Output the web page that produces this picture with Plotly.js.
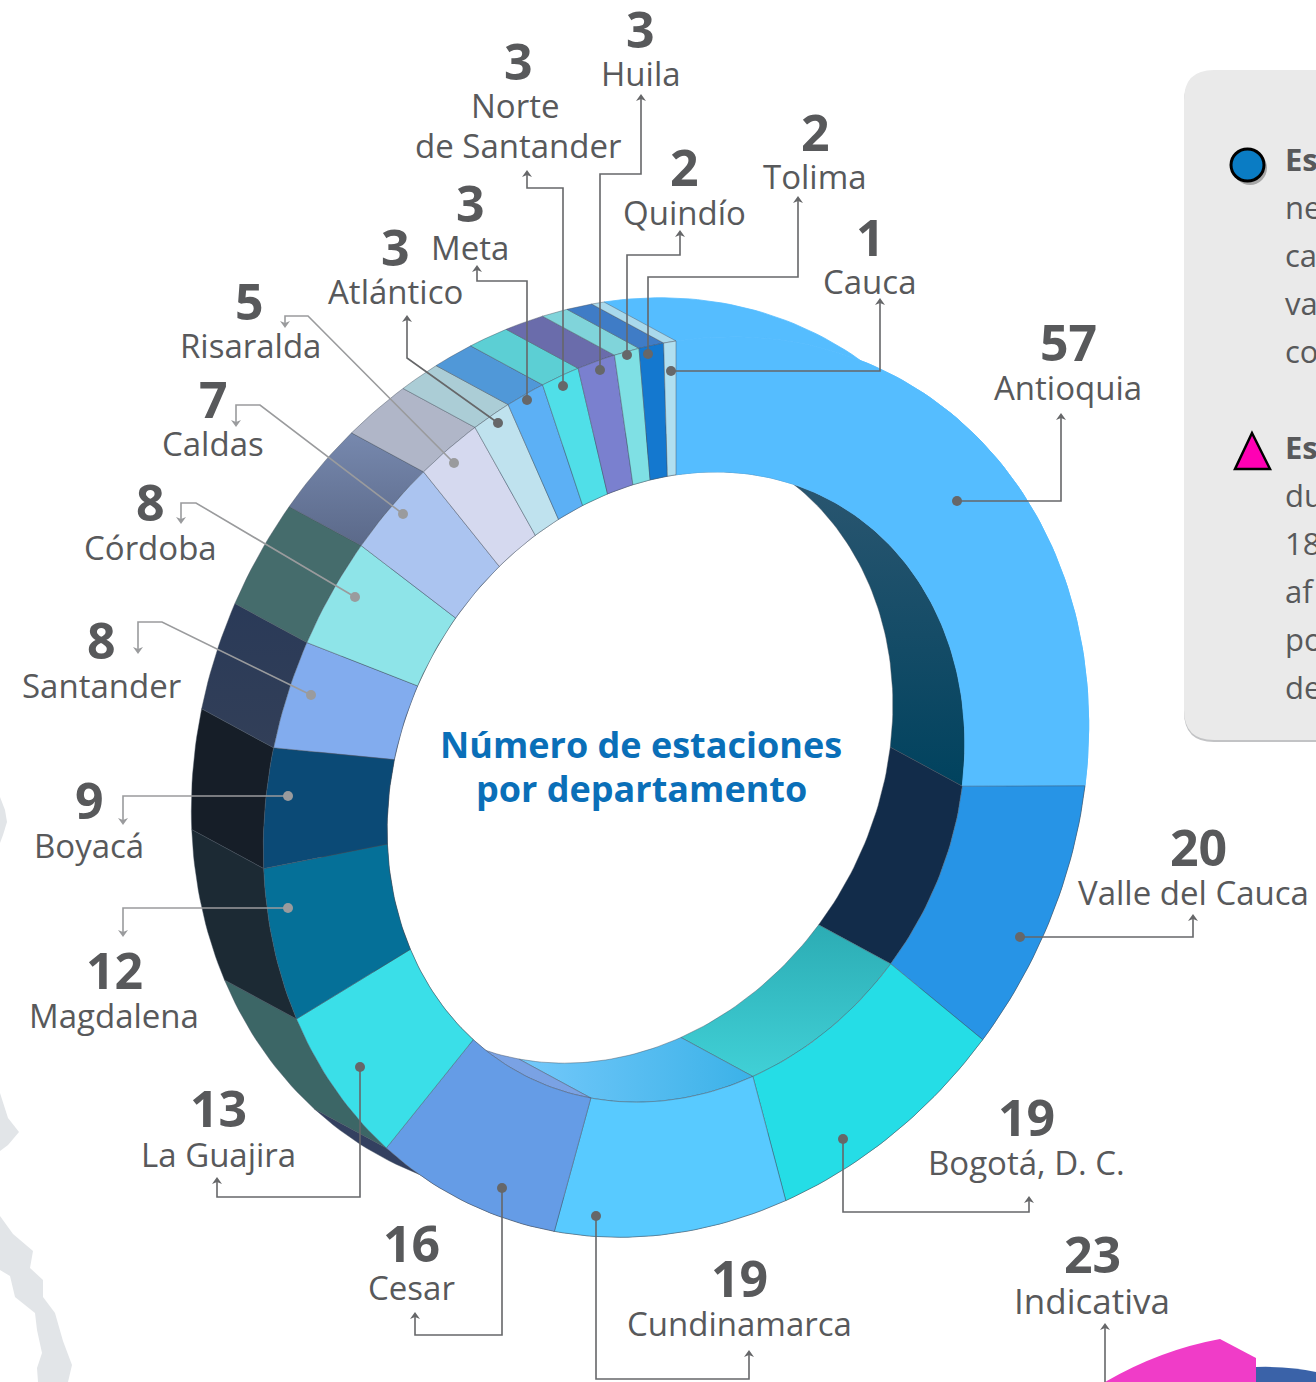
<!DOCTYPE html>
<html><head><meta charset="utf-8">
<script src="https://cdn.plot.ly/plotly-3.0.1.min.js"></script>
<style>html,body{margin:0;padding:0;background:#fff;overflow:hidden}#c{width:1316px;height:1382px}</style>
</head><body><div id="c"></div>
<script>
// ---- data ----
const departments = ["Antioquia","Valle del Cauca","Bogotá, D. C.","Cundinamarca","Cesar","La Guajira","Magdalena","Boyacá","Santander","Córdoba","Caldas","Risaralda","Atlántico","Meta","Norte de Santander","Huila","Quindío","Tolima","Cauca"];
const stations = [57,20,19,19,16,13,12,9,8,8,7,5,3,3,3,3,2,2,1];
const faceColors = ["#55bdff","#2794e6","#25dde6","#58caff","#659ce6","#3adfe8","#057098","#0b4a76","#82acee","#8ee4e8","#abc4f0","#d5d9ef","#bfe2ee","#5cb0f5","#50dfe8","#7a80cf","#7fe0e4","#1478cf","#b0dff0"];
const outerWallColors = ["#55bdff","#1e6fae","#1e8f96","#3a8fc0","#334060","#3c6666","#1c2a34","#161e28","#2e3d58","#456c6c","#667aa0","#b0b6c8","#abcdd6","#5098d8","#5ccfd4","#6a6cab","#80d4da","#3f7cc6","#a9d9ec"];
const innerWallColors = ["#12445f","#122c4a","#38c2c8","#4fbdf0","#7aa2e4","#3c6666","#1c2a34","#161e28","#2e3d58","#456c6c","#667aa0","#b0b6c8","#abcdd6","#5098d8","#5ccfd4","#6a6cab","#80d4da","#3f7cc6","#a9d9ec"];

// ---- oblique projection of the ring: a circle sheared and scaled, extruded up-left ----
const FRONT = {cx:676, cy:787};
const DEPTH = {dx:-72, dy:-39};
const AXES = {sx:412.7, sy:-61.6, cy:446};
const HOLE_RATIO = 0.70;
const rad = d => d*Math.PI/180;
const pt = (k,d,back) => {
  const s=Math.sin(rad(d)), c=Math.cos(rad(d));
  return [FRONT.cx+(back?DEPTH.dx:0)+k*AXES.sx*s, FRONT.cy+(back?DEPTH.dy:0)+k*(AXES.sy*s-AXES.cy*c)];
};
function arc(k,a,b,back){
  const n = Math.max(2, Math.ceil(Math.abs(b-a)/1.2)), out=[];
  for(let i=0;i<=n;i++) out.push(pt(k,a+(b-a)*i/n,back));
  return out;
}
const total = stations.reduce((s,v)=>s+v,0);
let acc=0;
const spans = stations.map(v=>{const a=acc; acc+=v; return [a/total*360, acc/total*360];});

const EDGE = 'rgba(70,80,95,.55)';
function poly(points,fill,name,val,edge,gradient){
  const xs=points.map(p=>p[0]), ys=points.map(p=>p[1]);
  xs.push(xs[0]); ys.push(ys[0]);
  const t={type:'scatter',mode:'lines',x:xs,y:ys,fill:'toself',fillcolor:fill,
    line:{color:edge||EDGE,width:0.8},name:name,
    hoverinfo:'text',text:name+': '+val,hoveron:'fills',showlegend:false};
  if(gradient) t.fillgradient=gradient;
  return t;
}
const vgrad=(a,b,y0,y1)=>({type:'vertical',colorscale:[[0,a],[1,b]],start:y0,stop:y1});
const hgrad=(a,b,x0,x1)=>({type:'horizontal',colorscale:[[0,a],[1,b]],start:x0,stop:x1});
const outerGradients={10:vgrad('#7a8cb2','#5a6888',420,550),8:vgrad('#2a3a58','#323f58',600,750)};
const innerGradients={0:vgrad('#2a5670','#00425e',480,790),2:vgrad('#2cacb4','#40d0d6',925,1075),3:hgrad('#72c8fa','#3cb2e8',525,750)};

const traces=[];
spans.forEach((s,i)=>{
  const f=arc(1,s[0],s[1],false), b=arc(1,s[1],s[0],true);
  traces.push(poly(f.concat(b),outerWallColors[i],departments[i],stations[i],i===0?faceColors[0]:EDGE,outerGradients[i]));
});
spans.forEach((s,i)=>{
  const f=arc(HOLE_RATIO,s[0],s[1],false), b=arc(HOLE_RATIO,s[1],s[0],true);
  traces.push(poly(f.concat(b),innerWallColors[i],departments[i],stations[i],EDGE,innerGradients[i]));
});
spans.forEach((s,i)=>{
  const o=arc(1,s[0],s[1],false), n=arc(HOLE_RATIO,s[1],s[0],false);
  traces.push(poly(o.concat(n),faceColors[i],departments[i],stations[i],i===0?faceColors[0]:EDGE));
});

// ---- labels ----
const NUM='#58595b';
const labels=[
 ["57",1068,342,"Antioquia",1068,387,33],["20",1198,847,"Valle del Cauca",1193,892,33],
 ["19",1026,1117,"Bogotá, D. C.",1026,1162,33],["19",739,1278,"Cundinamarca",739,1323,33],
 ["16",411,1243,"Cesar",411,1287,33],["13",218,1108,"La Guajira",218,1154,33],
 ["12",114,970,"Magdalena",114,1015,33],["9",89,800,"Boyacá",89,845,33],
 ["8",101,640,"Santander",101,685,33],["8",150,502,"Córdoba",150,547,33],
 ["7",213,399,"Caldas",213,443,33],["5",249,301,"Risaralda",250,345,33],
 ["3",395,247,"Atlántico",395,291,33],["3",470,203,"Meta",470,247,33],
 ["3",518,61,"Norte",515,105,33],["3",640,29,"Huila",641,73,33],
 ["2",684,167,"Quindío",684,212,33],["2",815,132,"Tolima",815,176,33],
 ["1",870,237,"Cauca",870,281,33],["23",1092,1254,"Indicativa",1092,1300,35]
];
const ann=[];
const txt=(t,x,y,size,color,bold,anchor)=>ann.push({text:bold?'<b>'+t+'</b>':t,x:x,y:y,xref:'x',yref:'y',showarrow:false,
  xanchor:anchor||'center',yanchor:'middle',font:{family:'"Open Sans",sans-serif',size:size,color:color}});
labels.forEach(l=>{txt(l[0],l[1],l[2],50,NUM,true);txt(l[3],l[4],l[5],l[6],NUM,false);});
txt("de Santander",518,145,33,NUM,false);
txt("Número de estaciones",641,744,36,'#0a6fb8',true);
txt("por departamento",641,788,36,'#0a6fb8',true);
[["Es",159,true],["ne",207],["ca",255],["va",303],["co",351],["Es",447,true],["du",495],["18",543],["af",591],["po",639],["de",687]]
 .forEach(l=>txt(l[0],1283,l[1],31,NUM,!!l[2],'left'));

// ---- connectors ----
const DARK='#666769', GRAY='#9a9b9d';
const connectors=[
 [DARK,[[671,371],[880,371],[880,300]]],
 [DARK,[[648,354],[648,277],[798,277],[798,198]]],
 [DARK,[[627,355],[627,255],[680,255],[680,232]]],
 [DARK,[[600,370],[600,174],[641,174],[641,96]]],
 [DARK,[[563,386],[563,188],[527,188],[527,172]]],
 [DARK,[[527,400],[527,281],[477,281],[477,267]]],
 [DARK,[[498,423],[407,358],[407,317]]],
 [GRAY,[[454,463],[308,316],[285,316],[285,326]]],
 [GRAY,[[403,514],[260,405],[236,405],[236,425]]],
 [GRAY,[[355,597],[196,503],[181,503],[181,522]]],
 [GRAY,[[311,695],[162,622],[138,622],[138,652]]],
 [GRAY,[[288,796],[123,796],[123,823]]],
 [GRAY,[[288,908],[123,908],[123,935]]],
 [DARK,[[360,1067],[360,1197],[217,1197],[217,1179]]],
 [DARK,[[502,1188],[502,1335],[415,1335],[415,1314]]],
 [DARK,[[596,1216],[596,1379],[749,1379],[749,1352]]],
 [DARK,[[843,1139],[843,1212],[1029,1212],[1029,1198]]],
 [DARK,[[1020,937],[1193,937],[1193,916]]],
 [DARK,[[957,501],[1061,501],[1061,415]]]
];
const shapes=[];
const path=(d,fill,line,w,layer)=>shapes.push({type:'path',path:d,xref:'x',yref:'y',layer:layer||'above',
  fillcolor:fill||'rgba(0,0,0,0)',line:{color:line||'rgba(0,0,0,0)',width:w||0}});
const toPath=(p,close)=>'M'+p.map(q=>q[0]+','+q[1]).join(' L')+(close?' Z':'');
function arrowHead(end,prev,color){
  const dx=Math.sign(end[0]-prev[0]), dy=Math.sign(end[1]-prev[1]);
  const a=[end[0]+dx*2,end[1]+dy*2], w=5, l=7;
  path(toPath([a,[a[0]-dx*l-dy*w,a[1]-dy*l-dx*w],[a[0]-dx*l*0.7,a[1]-dy*l*0.7],[a[0]-dx*l+dy*w,a[1]-dy*l+dx*w]],true),color);
}
[[[0,797],[5,810],[7,822],[3,835],[0,843]],
 [[0,1093],[8,1118],[19,1132],[8,1145],[0,1151]],
 [[0,1216],[13,1234],[33,1251],[30,1268],[43,1280],[43,1297],[55,1313],[63,1341],[72,1365],[68,1382],[38,1382],[37,1368],[42,1353],[37,1330],[35,1313],[15,1297],[10,1276],[0,1270]]]
 .forEach(p=>path(toPath(p,true),'#e2e5e8',null,0,'below'));
const panel=(x,y,r)=>`M1330,${y} L${x+r},${y} Q${x},${y} ${x},${y+r} L${x},${740+(y-70)-r} Q${x},${740+(y-70)} ${x+r},${740+(y-70)} L1330,${740+(y-70)} Z`;
path(panel(1184,72,30),'#c2c3c5',null,0,'below');
path(panel(1184,70,30),'#eaeaea',null,0,'below');
shapes.push({type:'circle',xref:'x',yref:'y',x0:1233,x1:1267,y0:151,y1:185,fillcolor:'#8a8a8a',line:{width:0},layer:'below',opacity:.7});
shapes.push({type:'circle',xref:'x',yref:'y',x0:1231,x1:1264,y0:149,y1:181,fillcolor:'#0a7cc4',line:{color:'#000',width:3},layer:'below'});
path(toPath([[1252,433],[1235,469],[1270,469]],true),'#ff00b4','#000',2.5,'below');
path('M1105,1382 Q1160,1350 1220,1339 L1256,1358 L1256,1382 Z','#f03cc8',null,0,'below');
path('M1256,1367 Q1290,1366 1316,1372 L1316,1382 L1256,1382 Z','#3a62a8',null,0,'below');

connectors.forEach(c=>{
  const col=c[0], p=c[1];
  path(toPath(p),null,col,1.6);
  arrowHead(p[p.length-1],p[p.length-2],col);
  shapes.push({type:'circle',xref:'x',yref:'y',x0:p[0][0]-5,x1:p[0][0]+5,y0:p[0][1]-5,y1:p[0][1]+5,fillcolor:col,line:{width:0},layer:'above'});
});
path(toPath([[1105,1382],[1105,1325]]),null,DARK,1.6);
arrowHead([1105,1325],[1105,1382],DARK);

const layout={width:1316,height:1382,margin:{l:0,r:0,t:0,b:0},paper_bgcolor:'#fff',plot_bgcolor:'rgba(0,0,0,0)',
  xaxis:{range:[0,1316],visible:false,fixedrange:true},
  yaxis:{range:[1382,0],visible:false,fixedrange:true},
  showlegend:false,annotations:ann,shapes:shapes,hovermode:'closest'};
Plotly.newPlot('c',traces,layout,{displayModeBar:false});
</script></body></html>
